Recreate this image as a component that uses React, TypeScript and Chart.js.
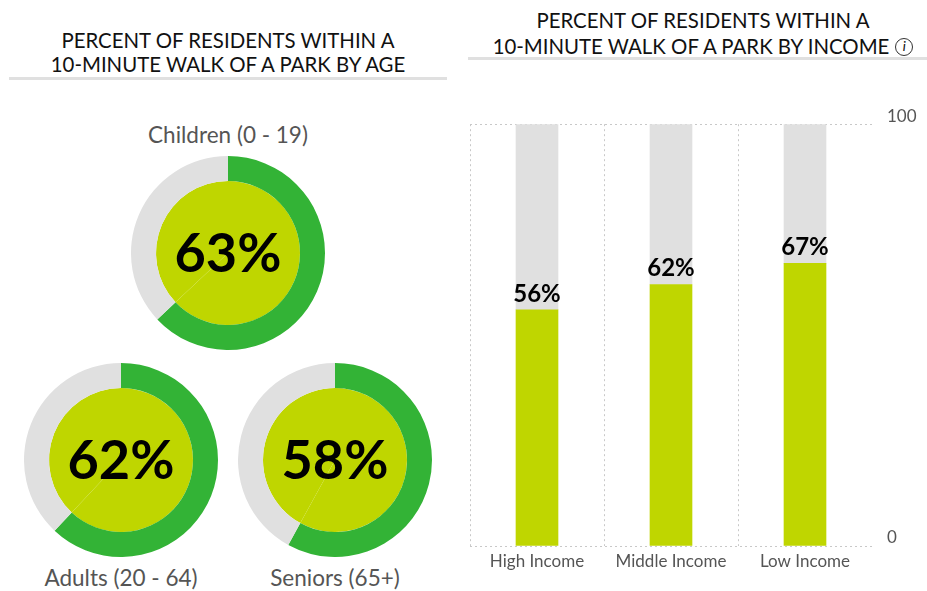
import React, { useEffect, useRef } from "react";
import { Chart, registerables } from "chart.js";

Chart.register(...registerables);

const ageLabels = ["Children (0 - 19)", "Adults (20 - 64)", "Seniors (65+)"];
const agePercents = [63, 62, 58];
const incomeLabels = ["High Income", "Middle Income", "Low Income"];
const incomePercents = [56, 62, 67];
const incomeRemainders = [44, 38, 33];

const GREEN = "#33b336";
const LIME = "#bfd600";
const GREY = "#e0e0e0";
const FONT = "Lato, sans-serif";

function Donut({ value, left, top }: { value: number; left: number; top: number }) {
  const ref = useRef<HTMLCanvasElement>(null);
  useEffect(() => {
    const chart = new Chart(ref.current!, {
      type: "doughnut",
      data: {
        datasets: [
          { data: [value, 100 - value], backgroundColor: [GREEN, GREY], borderWidth: 0, weight: 25 },
          { data: [value, 100 - value], backgroundColor: [LIME, LIME], borderWidth: 0, weight: 72 },
        ],
      },
      options: {
        responsive: false,
        animation: false,
        cutout: 0,
        layout: { padding: 0 },
        plugins: { legend: { display: false }, tooltip: { enabled: false } },
      },
    });
    return () => chart.destroy();
  }, [value]);
  return (
    <>
      <canvas ref={ref} width={194} height={194} style={{ position: "absolute", left, top, width: 194, height: 194 }} />
      <div style={{ position: "absolute", left, top: top + 66, width: 194, height: 60, textAlign: "center", font: `700 54px/60px ${FONT}`, color: "#000" }}>
        {value}%
      </div>
    </>
  );
}

const barLabelPlugin = {
  id: "barLabels",
  afterDatasetsDraw(chart: any) {
    const { ctx } = chart;
    const meta = chart.getDatasetMeta(0);
    ctx.save();
    ctx.font = `700 24px ${FONT}`;
    ctx.fillStyle = "#000";
    ctx.textAlign = "center";
    ctx.textBaseline = "bottom";
    meta.data.forEach((el: any, i: number) => {
      ctx.fillText(`${incomePercents[i]}%`, el.x, el.y - 4);
    });
    ctx.restore();
  },
};

function IncomeBars() {
  const ref = useRef<HTMLCanvasElement>(null);
  useEffect(() => {
    const dotted = "#c8c8c8";
    const chart = new Chart(ref.current!, {
      type: "bar",
      data: {
        labels: incomeLabels,
        datasets: [
          { data: incomePercents, backgroundColor: LIME, barThickness: 42 },
          { data: incomeRemainders, backgroundColor: GREY, barThickness: 42 },
        ],
      },
      options: {
        responsive: false,
        animation: false,
        layout: { padding: { left: 10, top: 20, right: 0, bottom: 0 } },
        plugins: { legend: { display: false }, tooltip: { enabled: false } },
        scales: {
          x: {
            stacked: true,
            afterFit: (s: any) => { s.height = 30; },
            grid: {
              color: (c: any) => (c.tick ? dotted : "transparent"),
              tickLength: 0,
              lineWidth: 1,
            },
            border: { display: false, dash: [2, 3] },
            ticks: { color: "#555", font: { family: FONT, size: 17 }, padding: 5, maxRotation: 0 },
          },
          y: {
            stacked: true,
            position: "right",
            min: 0,
            max: 100,
            afterFit: (s: any) => { s.width = 55; },
            grid: { color: dotted, tickLength: 0, lineWidth: 1 },
            border: { display: false, dash: [2, 3] },
            ticks: {
              stepSize: 100,
              color: "#555",
              labelOffset: -8,
              padding: 15,
              font: { family: FONT, size: 17 },
            },
          },
        },
      },
      plugins: [barLabelPlugin],
    } as any);
    return () => chart.destroy();
  }, []);
  return <canvas ref={ref} width={467} height={477} style={{ position: "absolute", left: 460, top: 99, width: 467, height: 477 }} />;
}

const titleStyle: React.CSSProperties = {
  position: "absolute",
  textAlign: "center",
  font: `400 20.4px/24px ${FONT}`,
  color: "#111",
  whiteSpace: "nowrap",
};
const capStyle: React.CSSProperties = {
  position: "absolute",
  textAlign: "center",
  font: `400 22.5px/28px ${FONT}`,
  color: "#555",
  whiteSpace: "nowrap",
};

export default function App() {
  useEffect(() => {
    document.body.style.margin = "0";
    document.body.style.background = "#fff";
  }, []);
  return (
    <div style={{ position: "absolute", left: 0, top: 0, width: 927, height: 591, overflow: "hidden", background: "#fff" }}>
      <div style={{ ...titleStyle, left: 9, width: 438, top: 28 }}>
        PERCENT OF RESIDENTS WITHIN A<br />10-MINUTE WALK OF A PARK BY AGE
      </div>
      <div style={{ position: "absolute", left: 9, top: 77, width: 438, height: 3, background: GREY }} />
      <div style={{ ...titleStyle, left: 468, width: 470, top: 7, lineHeight: "26px" }}>
        PERCENT OF RESIDENTS WITHIN A<br />10-MINUTE WALK OF A PARK BY INCOME
        <span style={{ display: "inline-block", marginLeft: 6, width: 18, height: 18, boxSizing: "border-box", border: "1.3px solid #333", borderRadius: "50%", font: `italic 500 13px/15px ${FONT}`, verticalAlign: 3, textAlign: "center" }}>i</span>
      </div>
      <div style={{ position: "absolute", left: 468, top: 57, width: 459, height: 3, background: GREY }} />

      <div style={{ ...capStyle, left: 128, width: 200, top: 121 }}>{ageLabels[0]}</div>
      <div style={{ ...capStyle, left: 21, width: 200, top: 564 }}>{ageLabels[1]}</div>
      <div style={{ ...capStyle, left: 235, width: 200, top: 564 }}>{ageLabels[2]}</div>
      <Donut value={agePercents[0]} left={131} top={156} />
      <Donut value={agePercents[1]} left={24} top={363} />
      <Donut value={agePercents[2]} left={238} top={363} />
      <IncomeBars />
    </div>
  );
}
